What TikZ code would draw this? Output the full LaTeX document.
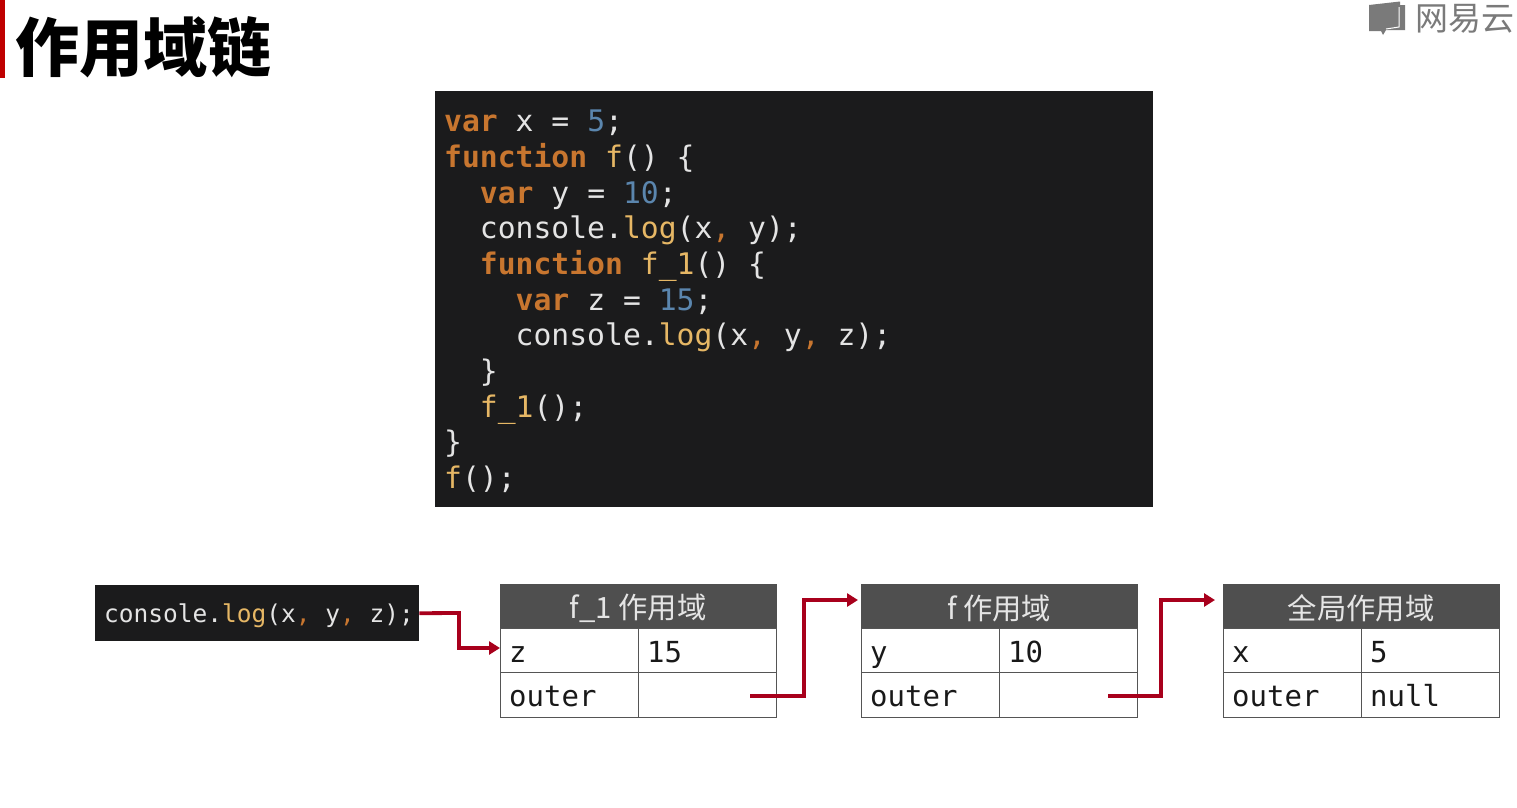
\documentclass[tikz,border=0pt]{standalone}
\usepackage{fontspec}
\usetikzlibrary{arrows.meta}
\setmainfont{DejaVu Sans}
\setmonofont{DejaVu Sans Mono}
\newfontfamily\cjk{Noto Sans CJK SC}
\definecolor{panel}{HTML}{1B1B1C}
\definecolor{codetxt}{HTML}{E4E4E4}
\definecolor{kwcol}{HTML}{C8762F}
\definecolor{fncol}{HTML}{E6B765}
\definecolor{numcol}{HTML}{5B86AE}
\definecolor{headcol}{HTML}{4F4F4F}
\definecolor{gridcol}{HTML}{555555}
\definecolor{redline}{HTML}{A8001C}
\definecolor{logocol}{HTML}{7A7A7A}
\newcommand{\kw}[1]{\textcolor{kwcol}{\bfseries #1}}
\newcommand{\fn}[1]{\textcolor{fncol}{#1}}
\newcommand{\nm}[1]{\textcolor{numcol}{#1}}
\newcommand{\cm}{\textcolor{kwcol}{,}}
\tikzset{
  codepanel/.style={fill=panel,draw=none,inner sep=0pt,anchor=north west},
  codetext/.style={text=codetxt,anchor=north west,inner sep=0pt,align=left,
    font=\ttfamily\fontsize{29.7}{35.65}\selectfont},
  smallcode/.style={fill=panel,text=codetxt,inner sep=0pt,anchor=north west,
    minimum width=324pt,minimum height=56pt,font=\ttfamily\fontsize{24.5}{29}\selectfont},
  headcell/.style={fill=headcol,draw=headcol,inner sep=0pt,anchor=north west,
    minimum width=276pt,minimum height=44pt},
  headtxt/.style={anchor=center,inner sep=0pt,text=white!90!black,font=\cjk\fontsize{29.3}{32}\selectfont},
  cell/.style={draw=gridcol,line width=1.2pt,fill=white,inner sep=0pt,anchor=north west,
    minimum width=138pt,minimum height=44.5pt,text=black,
    font=\ttfamily\fontsize{29}{32}\selectfont},
  celltxt/.style={anchor=base west,inner sep=0pt,text=black!90,font=\ttfamily\fontsize{29}{32}\selectfont},
  link/.style={draw=redline,line width=3.8pt,rounded corners=0pt},
  linkarrow/.style={link,-{Triangle[length=11pt,width=13pt]}},
}
\newcommand{\scopetable}[6]{%
  \node[headcell] (#1head) at (#2,584) {};
  \node[headtxt] (#1htxt) at ([yshift=-2.5pt]#1head.center) {#3};
  \node[cell] (#1a) at (#2,628) {};
  \node[cell] (#1b) at ([xshift=138pt]#2,628) {};
  \node[cell] (#1c) at (#2,672) {};
  \node[cell] (#1d) at ([xshift=138pt]#2,672) {};
  \node[celltxt] (#1at) at ([xshift=9pt]#2,662) {#4};
  \node[celltxt] (#1bt) at ([xshift=147pt]#2,662) {#5};
  \node[celltxt] (#1ct) at ([xshift=9pt]#2,706) {outer};
  \node[celltxt] (#1dt) at ([xshift=147pt]#2,706) {#6};
}
\begin{document}
\begin{tikzpicture}[x=1pt,y=-1pt]
\useasboundingbox (0,0) rectangle (1517,807);
\fill[white] (0,0) rectangle (1517,807);
% title
\fill[fill=red!75!black] (0,0) rectangle (5,78);
\node[anchor=west,inner sep=0pt,font=\cjk\bfseries\fontsize{64}{70}\selectfont,text=black] (title) at (15,47.5) {作用域链};
% logo
\fill[logocol] (1369,5) -- (1400,1.5) -- (1400,5) -- (1405,5) -- (1405,30) -- (1386,30) -- (1383,35) -- (1381,31) -- (1369,31) -- cycle;
\draw[white,line width=1pt] (1399,7) -- (1399,27) -- (1386,29);
\node[anchor=west,inner sep=0pt,font=\cjk\fontsize{33}{36}\selectfont,text=logocol] (logo) at (1415,19) {网易云};
% code
\node[codepanel,minimum width=718pt,minimum height=416pt] (codebox) at (435,91) {};
\node[codetext] (code) at (444,110) {%
\kw{var} x = \nm{5};\\
\kw{function} \fn{f}() \{\\
\phantom{xx}\kw{var} y = \nm{10};\\
\phantom{xx}console.\fn{log}(x\cm{} y);\\
\phantom{xx}\kw{function} \fn{f\_1}() \{\\
\phantom{xxxx}\kw{var} z = \nm{15};\\
\phantom{xxxx}console.\fn{log}(x\cm{} y\cm{} z);\\
\phantom{xx}\}\\
\phantom{xx}\fn{f\_1}();\\
\}\\
\fn{f}();};
% call
\node[smallcode,text depth=0pt] (callbox) at (95,585) {};
\node[anchor=base west,inner sep=0pt,text=codetxt,font=\ttfamily\fontsize{24.5}{29}\selectfont] (calltxt) at (104,622) {console.\fn{log}(x\cm{} y\cm{} z);};
% tables
\scopetable{one}{500}{f\_1 作用域}{z}{15}{}
\scopetable{two}{861}{f 作用域}{y}{10}{}
\scopetable{three}{1223}{全局作用域}{x}{5}{null}
% connectors
\coordinate (in1) at (500,648);
\coordinate (out1) at (750,696);
\coordinate (in2) at (858,600);
\coordinate (out2) at (1108,696);
\coordinate (in3) at (1215,600);
\coordinate (b1) at (459,613);
\draw[linkarrow] (callbox.east) -- (b1) |- (in1);
\draw[linkarrow] (out1) -- (804,696) |- (in2);
\draw[linkarrow] (out2) -- (1161,696) |- (in3);
\end{tikzpicture}
\end{document}
